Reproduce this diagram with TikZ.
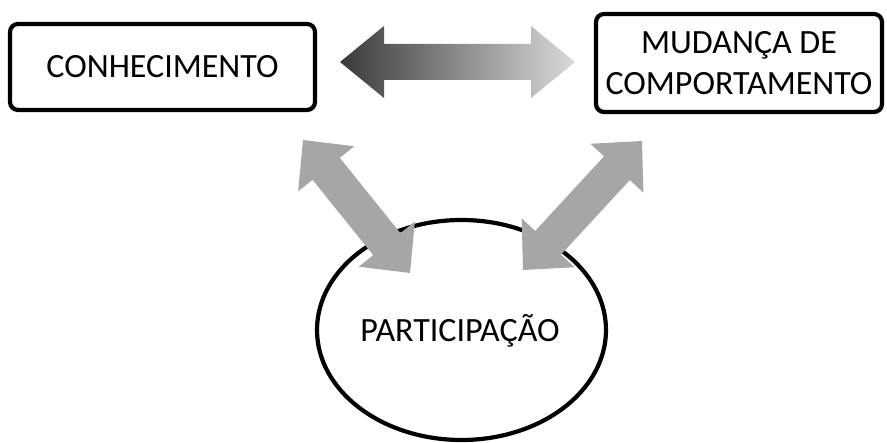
\documentclass[tikz,border=0pt]{standalone}
\usepackage{fontspec}
\setmainfont{Carlito}
\usetikzlibrary{calc,shapes.geometric}
\tikzset{
  txt/.style={font=\fontsize{34}{41}\selectfont},
  box/.style={draw=black, line width=4.2pt, rounded corners=8pt, fill=white, align=center, inner sep=0pt, txt},
  oval/.style={draw=black, line width=4.2pt, ellipse, fill=white, inner sep=0pt},
  grayarrow/.style={fill={rgb,255:red,166;green,166;blue,166}},
  gradarrow/.style={left color={rgb,255:red,58;green,58;blue,58}, right color={rgb,255:red,218;green,218;blue,218}},
}
% fat double arrow between two tips: #1 options, #2 tip A, #3 tip B
\newcommand\fatarrow[3]{%
  \path
    ($(#2)!\hl!(#3)$) coordinate (h1)
    ($(#3)!\hl!(#2)$) coordinate (h2);
  \path[#1] (#2) -- ($(h1)!\hw!-90:(#3)$) -- ($(h1)!\sw!-90:(#3)$)
    -- ($(h2)!\sw!90:(#2)$) -- ($(h2)!\hw!90:(#2)$) -- (#3)
    -- ($(h2)!\hw!-90:(#2)$) -- ($(h2)!\sw!-90:(#2)$)
    -- ($(h1)!\sw!90:(#3)$) -- ($(h1)!\hw!90:(#3)$) -- cycle;
}
\begin{document}
\begin{tikzpicture}[x=1pt,y=1pt]
\useasboundingbox (0,0) rectangle (887,443);
\node[box, minimum width=305pt, minimum height=86pt] (con) at (162.5,376) {CONHECIMENTO};
\node[box, minimum width=286pt, minimum height=98pt] (mud) at (739,380) {MUDANÇA DE\\COMPORTAMENTO};
\node[oval, minimum width=289pt, minimum height=220pt] (par) at (461.5,113) {};
\node[txt] (partxt) at (460,112) {PARTICIPAÇÃO};
% arrow tips
\coordinate (hl) at (340,381);
\coordinate (hr) at (575,381);
\coordinate (la) at (303,303);
\coordinate (lb) at (410,170);
\coordinate (ra) at (642,302);
\coordinate (rb) at (523,173);
\def\hl{44pt}\def\hw{36pt}\def\sw{18pt}
\fatarrow{gradarrow}{hl}{hr}
\def\hl{37pt}\def\hw{36pt}\def\sw{17.5pt}
\fatarrow{grayarrow}{la}{lb}
\fatarrow{grayarrow}{ra}{rb}
\end{tikzpicture}
\end{document}
